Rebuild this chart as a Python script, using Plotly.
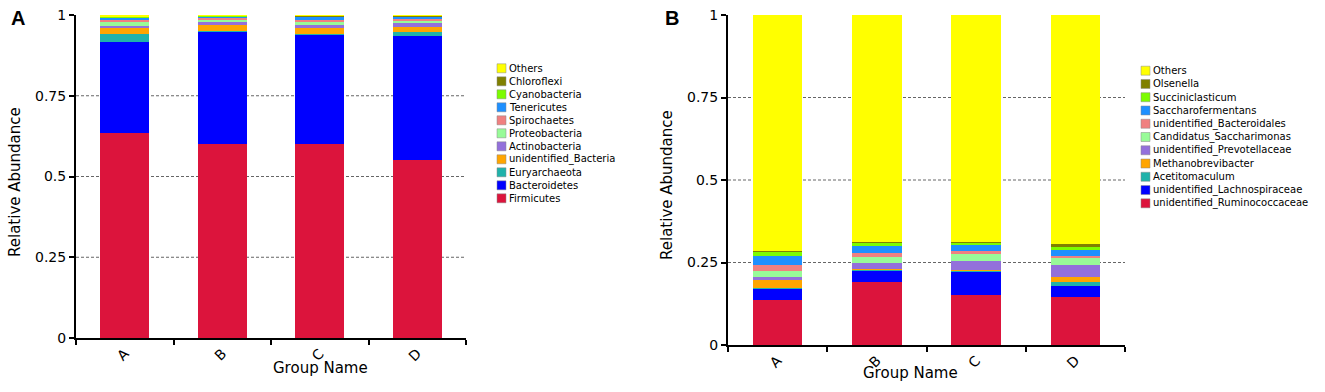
import plotly.graph_objects as go

W, H = 1325, 392

groups = ["A", "B", "C", "D"]

# Panel A (phylum level), bottom -> top stacking order
phyla = ["Firmicutes", "Bacteroidetes", "Euryarchaeota", "unidentified_Bacteria",
         "Actinobacteria", "Proteobacteria", "Spirochaetes", "Tenericutes",
         "Cyanobacteria", "Chloroflexi", "Others"]
firmicutes = [0.635, 0.602, 0.602, 0.552]
bacteroidetes = [0.282, 0.345, 0.336, 0.382]
euryarchaeota = [0.024, 0.003, 0.003, 0.012]
unid_bacteria = [0.018, 0.019, 0.020, 0.018]
actinobacteria = [0.008, 0.008, 0.008, 0.010]
proteobacteria = [0.012, 0.008, 0.010, 0.007]
spirochaetes = [0.006, 0.005, 0.007, 0.006]
tenericutes = [0.006, 0.005, 0.007, 0.006]
cyanobacteria = [0.002, 0.001, 0.002, 0.002]
chloroflexi = [0.002, 0.001, 0.001, 0.001]
others_a = [0.005, 0.003, 0.004, 0.004]
values_a = [firmicutes, bacteroidetes, euryarchaeota, unid_bacteria, actinobacteria,
            proteobacteria, spirochaetes, tenericutes, cyanobacteria, chloroflexi, others_a]

# Panel B (genus level)
genera = ["unidentified_Ruminococcaceae", "unidentified_Lachnospiraceae", "Acetitomaculum",
          "Methanobrevibacter", "unidentified_Prevotellaceae", "Candidatus_Saccharimonas",
          "unidentified_Bacteroidales", "Saccharofermentans", "Succiniclasticum",
          "Olsenella", "Others"]
ruminococcaceae = [0.137, 0.190, 0.152, 0.145]
lachnospiraceae = [0.032, 0.035, 0.068, 0.035]
acetitomaculum = [0.005, 0.003, 0.004, 0.010]
methanobrevibacter = [0.023, 0.003, 0.003, 0.015]
prevotellaceae = [0.010, 0.018, 0.027, 0.038]
saccharimonas = [0.017, 0.018, 0.022, 0.020]
bacteroidales = [0.017, 0.012, 0.009, 0.008]
saccharofermentans = [0.028, 0.020, 0.017, 0.017]
succiniclasticum = [0.013, 0.010, 0.007, 0.008]
olsenella = [0.003, 0.002, 0.002, 0.010]
others_b = [0.715, 0.689, 0.689, 0.694]
values_b = [ruminococcaceae, lachnospiraceae, acetitomaculum, methanobrevibacter,
            prevotellaceae, saccharimonas, bacteroidales, saccharofermentans,
            succiniclasticum, olsenella, others_b]

colors = ["#DC143C", "#0000FF", "#20B2AA", "#FFA500", "#9370DB", "#98FB98",
          "#F08080", "#1E90FF", "#7CFC00", "#808000", "#FFFF00"]

tick_vals = [0, 0.25, 0.5, 0.75, 1]
tick_text = ["0", "0.25", "0.5", "0.75", "1"]

FONT = "DejaVu Sans"

fig = go.Figure()
for name, vals, col in zip(phyla, values_a, colors):
    fig.add_trace(go.Bar(x=groups, y=vals, name=name, marker=dict(color=col, line=dict(width=0)),
                         width=0.5, xaxis="x", yaxis="y", showlegend=False, hoverinfo="skip"))
for name, vals, col in zip(genera, values_b, colors):
    fig.add_trace(go.Bar(x=groups, y=vals, name=name, marker=dict(color=col, line=dict(width=0)),
                         width=0.5, xaxis="x2", yaxis="y2", showlegend=False, hoverinfo="skip"))

def px_x(p):
    return p / W

def px_y(p):
    return 1 - p / H

axis_common_y = dict(range=[0, 1], tickvals=tick_vals, ticktext=tick_text, ticks="outside",
                     ticklen=5, tickwidth=2, tickcolor="black", showline=True, linewidth=2,
                     linecolor="black", showgrid=False, zeroline=False, automargin=False,
                     fixedrange=True,
                     tickfont=dict(family=FONT, size=14, color="black"))
axis_common_x = dict(type="category", range=[-0.5, 3.5], ticks="outside", tickson="boundaries",
                     ticklen=5, tickwidth=2, tickcolor="black", showline=True, linewidth=2,
                     linecolor="black", showgrid=False, zeroline=False, tickangle=-45,
                     automargin=False, fixedrange=True,
                     tickfont=dict(family=FONT, size=14, color="black"))

fig.update_layout(
    template="none",
    width=W, height=H, margin=dict(l=0, r=0, t=0, b=0, pad=0),
    paper_bgcolor="white", plot_bgcolor="white", barmode="stack", showlegend=False,
    hovermode=False,
    xaxis=dict(domain=[px_x(76), px_x(466)], anchor="y", **axis_common_x),
    yaxis=dict(domain=[px_y(338), px_y(15)], anchor="x", **axis_common_y),
    xaxis2=dict(domain=[px_x(728), px_x(1125)], anchor="y2", **axis_common_x),
    yaxis2=dict(domain=[px_y(345), px_y(15)], anchor="x2", **axis_common_y),
)

shapes = []
annotations = []
# dashed gridlines
for xr, yr in (("x domain", "y"), ("x2 domain", "y2")):
    for gv in [0.25, 0.5, 0.75]:
        shapes.append(dict(type="line", xref=xr, yref=yr, x0=0, x1=1, y0=gv, y1=gv,
                           line=dict(color="#666666", width=1, dash="3px,2px"), layer="below"))

# manual legends (top entry = last stacked series)
def add_legend(names, sq_x0, sq_size, text_x, y_top, step):
    for i, (name, col) in enumerate(zip(reversed(names), reversed(colors))):
        yc = y_top + i * step
        shapes.append(dict(type="rect", xref="paper", yref="paper",
                           x0=px_x(sq_x0), x1=px_x(sq_x0 + sq_size),
                           y0=px_y(yc + sq_size / 2), y1=px_y(yc - sq_size / 2),
                           fillcolor=col, line=dict(color="#888888", width=0.5)))
        annotations.append(dict(xref="paper", yref="paper", x=px_x(text_x), y=px_y(yc),
                                xanchor="left", yanchor="middle", showarrow=False, text=name,
                                font=dict(family=FONT, size=10, color="black")))

add_legend(phyla, 497, 9, 507, 68.3, 13.0)
add_legend(genera, 1141, 9, 1151, 70.7, 13.26)

# axis titles and panel letters
for x, y, txt in ((15, 182, "Relative Abundance"), (667, 185, "Relative Abundance")):
    annotations.append(dict(xref="paper", yref="paper", x=px_x(x), y=px_y(y), textangle=-90,
                            xanchor="center", yanchor="middle", showarrow=False, text=txt,
                            font=dict(family=FONT, size=15, color="black")))
for x, y in ((320, 368), (910, 373)):
    annotations.append(dict(xref="paper", yref="paper", x=px_x(x), y=px_y(y),
                            xanchor="center", yanchor="middle", showarrow=False, text="Group Name",
                            font=dict(family=FONT, size=15, color="black")))
for x, txt in ((18, "A"), (672, "B")):
    annotations.append(dict(xref="paper", yref="paper", x=px_x(x), y=px_y(18),
                            xanchor="center", yanchor="middle", showarrow=False, text="<b>%s</b>" % txt,
                            font=dict(family="Liberation Sans", size=20, color="black")))

fig.update_layout(shapes=shapes, annotations=annotations)
fig.write_html("out.html", config={"displayModeBar": False, "staticPlot": True},
               post_script="document.body.style.margin='0';document.body.style.padding='0';")
